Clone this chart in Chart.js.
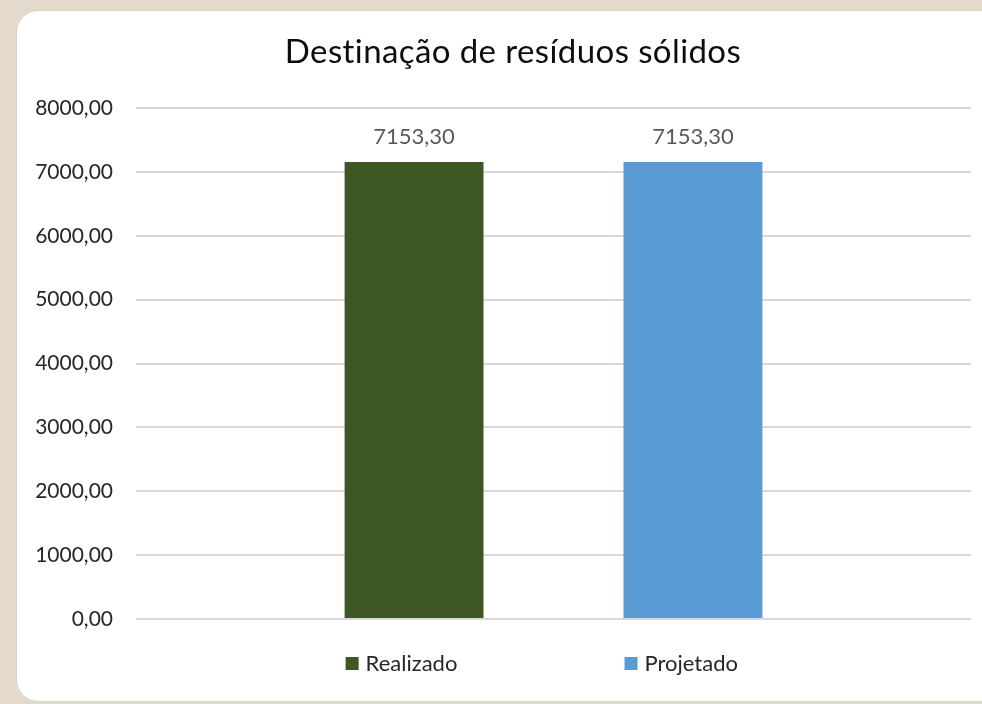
<!DOCTYPE html>
<html>
<head>
<meta charset="utf-8">
<script src="https://cdn.jsdelivr.net/npm/chart.js@4.4.1/dist/chart.umd.min.js"></script>
<style>
  html, body { margin: 0; padding: 0; width: 982px; height: 704px; overflow: hidden; background: #e3dacb; }
  #panel { position: absolute; left: 16px; top: 10px; width: 990px; height: 692px; background: #ffffff;
           border: 1px solid #d4d0ca; border-radius: 22px; box-sizing: border-box; }
  #wrap { position: absolute; left: 0; top: 0; width: 982px; height: 704px; }
</style>
</head>
<body>
<div id="panel"></div>
<div id="wrap"><canvas id="c" width="982" height="704"></canvas></div>
<script>
const chartTitle = 'Destinação de resíduos sólidos';
const categories = [''];
const seriesNames = ['Realizado', 'Projetado'];
const realizado = [7153.30];
const projetado = [7153.30];
const seriesColors = ['#3c5724', '#5b9bd5'];
const yTicks = [0, 1000, 2000, 3000, 4000, 5000, 6000, 7000, 8000];

const FONT = 'Lato, "Open Sans", sans-serif';
const fmt = v => v.toFixed(2).replace('.', ',');

const titlePlugin = {
  id: 'customTitle',
  afterDraw(chart) {
    const ctx = chart.ctx;
    ctx.save();
    ctx.font = '33px ' + FONT;
    if ('letterSpacing' in ctx) ctx.letterSpacing = '0.4px';
    ctx.fillStyle = '#0d0d0d';
    ctx.textAlign = 'center';
    ctx.textBaseline = 'alphabetic';
    ctx.fillText(chartTitle, 513, 63);
    ctx.restore();
  }
};

const dataLabelPlugin = {
  id: 'dataLabels',
  afterDatasetsDraw(chart) {
    const ctx = chart.ctx;
    ctx.save();
    ctx.font = '22px ' + FONT;
    ctx.fillStyle = '#595959';
    ctx.textAlign = 'center';
    ctx.textBaseline = 'middle';
    chart.data.datasets.forEach((ds, i) => {
      const meta = chart.getDatasetMeta(i);
      meta.data.forEach((bar, j) => {
        ctx.fillText(fmt(ds.data[j]), bar.x, bar.y - 25);
      });
    });
    ctx.restore();
  }
};

const legendPlugin = {
  id: 'customLegend',
  afterDraw(chart) {
    const ctx = chart.ctx;
    ctx.save();
    ctx.font = '22px ' + FONT;
    ctx.textBaseline = 'middle';
    ctx.textAlign = 'left';
    chart.data.datasets.forEach((ds, i) => {
      const bar = chart.getDatasetMeta(i).data[0];
      const left = bar.x - bar.width / 2 + 1;
      const cy = 664;
      ctx.fillStyle = ds.backgroundColor;
      ctx.fillRect(left, cy - 7, 13, 13);
      ctx.fillStyle = '#262626';
      ctx.fillText(ds.label, left + 20, cy);
    });
    ctx.restore();
  }
};

new Chart(document.getElementById('c'), {
  type: 'bar',
  data: {
    labels: categories,
    datasets: [
      { label: seriesNames[0], data: realizado, backgroundColor: seriesColors[0] },
      { label: seriesNames[1], data: projetado, backgroundColor: seriesColors[1] }
    ]
  },
  options: {
    responsive: false,
    animation: false,
    devicePixelRatio: 1,
    layout: { padding: { top: 108, right: 11, bottom: 85, left: 0 } },
    categoryPercentage: 0.668,
    barPercentage: 0.498,
    plugins: {
      legend: { display: false },
      title: { display: false },
      tooltip: { enabled: false }
    },
    scales: {
      x: { display: false },
      y: {
        min: 0, max: 8000,
        afterFit(scale) { scale.width = 136; },
        afterBuildTicks(scale) { scale.ticks = yTicks.map(v => ({ value: v })); },
        border: { display: false },
        grid: { color: '#d9d9d9', lineWidth: 2, drawTicks: false },
        ticks: {
          padding: 23,
          color: '#262626',
          font: { family: FONT, size: 21 },
          callback: v => fmt(v)
        }
      }
    }
  },
  plugins: [titlePlugin, dataLabelPlugin, legendPlugin]
});
</script>
</body>
</html>
